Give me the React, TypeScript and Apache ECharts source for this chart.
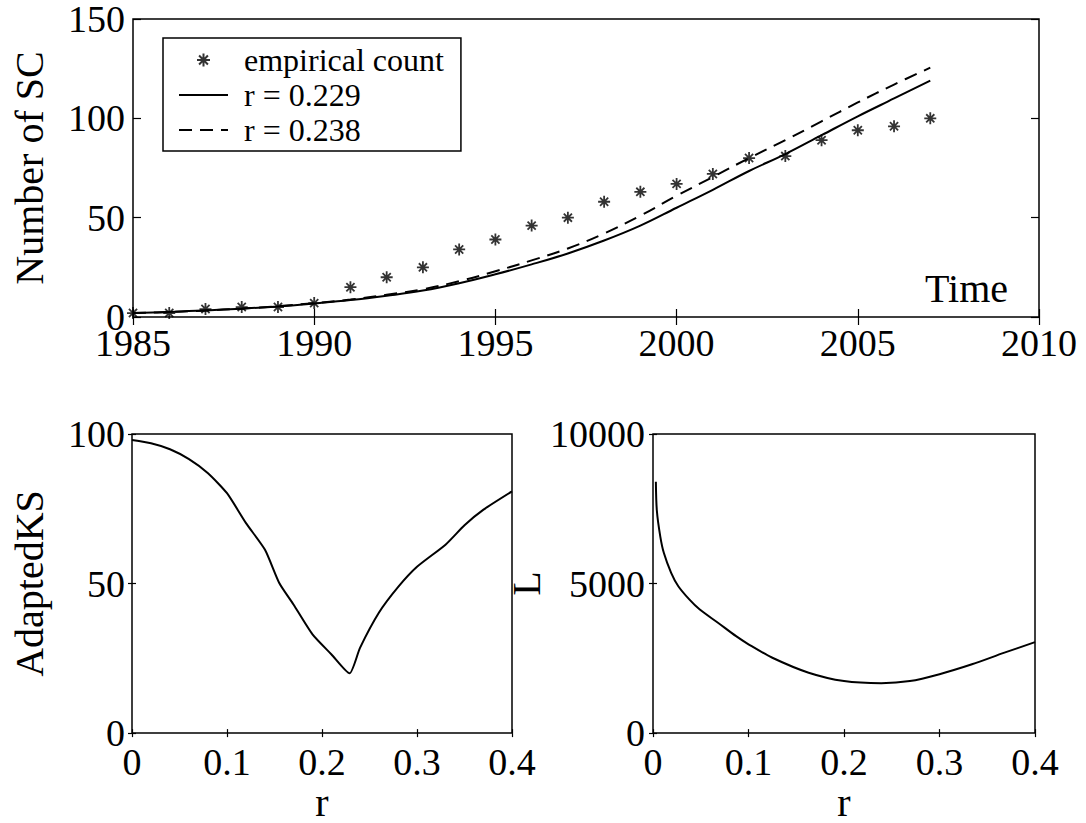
import React, { useEffect, useRef } from 'react';
import * as echarts from 'echarts';

const FONT = 'Liberation Serif';

// ---- Top panel: number of SC over time ----
const years = [1985, 1986, 1987, 1988, 1989, 1990, 1991, 1992, 1993, 1994, 1995, 1996, 1997, 1998, 1999, 2000, 2001, 2002, 2003, 2004, 2005, 2006, 2007];
const empiricalCount = [2, 2, 4, 5, 5, 7, 15, 20, 25, 34, 39, 46, 50, 58, 63, 67, 72, 80, 81, 89, 94, 96, 100];
const fitR229 = [2, 2.5, 3.3, 4.2, 5.3, 6.8, 8.5, 10.7, 13.3, 17, 21.5, 26.5, 32, 38.5, 46, 55, 64, 73.5, 82, 91.5, 101, 110, 119];
const fitR238 = [2, 2.5, 3.3, 4.2, 5.4, 7, 8.8, 11.2, 14, 18, 23, 28.5, 34.5, 42, 51, 61, 70.5, 80, 89, 98.5, 108, 117, 125.5];
const legendNames = ['empirical count', 'r = 0.229', 'r = 0.238'];

// ---- Bottom-left panel: AdaptedKS vs r ----
const rKS = [0, 0.02, 0.04, 0.06, 0.08, 0.1, 0.12, 0.14, 0.155, 0.17, 0.19, 0.21, 0.229, 0.24, 0.26, 0.28, 0.3, 0.33, 0.35, 0.37, 0.4];
const adaptedKS = [98, 96.9, 94.9, 91.6, 86.9, 80.2, 70.2, 61.3, 50.2, 43, 33, 26.3, 20, 28.5, 40.3, 48.8, 55.6, 63, 69.5, 74.7, 80.8];

// ---- Bottom-right panel: L vs r ----
const rL = [0.003, 0.004, 0.0076, 0.0114, 0.019, 0.0265, 0.038, 0.049, 0.068, 0.087, 0.1, 0.125, 0.163, 0.2, 0.239, 0.269, 0.3, 0.334, 0.368, 0.4];
const valuesL = [8400, 7450, 6580, 6020, 5360, 4910, 4470, 4130, 3690, 3240, 2970, 2520, 2020, 1740, 1670, 1740, 1970, 2300, 2690, 3040];

// axis ranges
const topX = { min: 1985, max: 2010, interval: 5 };
const topY = { min: 0, max: 150, interval: 50 };
const rAxis = { min: 0, max: 0.4, interval: 0.1 };
const ksAxis = { min: 0, max: 100, interval: 50 };
const lAxis = { min: 0, max: 10000, interval: 5000 };

const ASTERISK = 'path://M5 0 L5 10 M0 5 L10 5 M1.6 1.6 L8.4 8.4 M8.4 1.6 L1.6 8.4';

const labelStyle = { fontFamily: FONT, fontSize: 38, color: '#000' };
const nameStyle = { fontFamily: FONT, fontSize: 40, color: '#000' };

function xAx(gridIndex: number, range: any, tickLen: number, margin: number, fmt: (v: number) => string, extra: any = {}) {
  return [
    {
      type: 'value', gridIndex, position: 'bottom', ...range,
      axisLine: { show: false },
      axisTick: { show: true, inside: true, length: tickLen, lineStyle: { color: '#000', width: 1.2 } },
      axisLabel: { ...labelStyle, margin, formatter: fmt },
      splitLine: { show: false },
      ...extra,
    },
    {
      type: 'value', gridIndex, position: 'top', ...range,
      axisLine: { show: false },
      axisTick: { show: true, inside: true, length: tickLen, lineStyle: { color: '#000', width: 1.2 } },
      axisLabel: { show: false },
      splitLine: { show: false },
    },
  ];
}

function yAx(gridIndex: number, range: any, tickLen: number, margin: number, name: string, nameGap: number) {
  return [
    {
      type: 'value', gridIndex, position: 'left', ...range,
      name, nameLocation: 'middle', nameGap, nameTextStyle: nameStyle,
      axisLine: { show: false },
      axisTick: { show: true, inside: true, length: tickLen, lineStyle: { color: '#000', width: 1.2 } },
      axisLabel: { ...labelStyle, margin, formatter: (v: number) => String(v) },
      splitLine: { show: false },
    },
    {
      type: 'value', gridIndex, position: 'right', ...range,
      axisLine: { show: false },
      axisTick: { show: true, inside: true, length: tickLen, lineStyle: { color: '#000', width: 1.2 } },
      axisLabel: { show: false },
      splitLine: { show: false },
    },
  ];
}

const gridBox = { show: true, borderColor: '#000', borderWidth: 1.5, backgroundColor: 'transparent', containLabel: false };
const hiddenSymbol = { color: 'rgba(0,0,0,0)', borderWidth: 0, opacity: 0 };

export default function App() {
  const ref = useRef<HTMLDivElement>(null);
  useEffect(() => {
    const chart = echarts.init(ref.current!, null, { renderer: 'svg' });
    const rFmt = (v: number) => String(Math.round(v * 10) / 10);
    const option: any = {
      animation: false,
      backgroundColor: '#fff',
      color: ['#000'],
      textStyle: { fontFamily: FONT },
      grid: [
        { ...gridBox, left: 133, top: 17, width: 906, height: 300 },
        { ...gridBox, left: 132, top: 434, width: 380, height: 301 },
        { ...gridBox, left: 653, top: 434, width: 382, height: 301 },
      ],
      xAxis: [
        ...xAx(0, topX, 8, 7, (v: number) => String(v)),
        ...xAx(1, rAxis, 4, 10, rFmt, { name: 'r', nameLocation: 'middle', nameGap: 46, nameTextStyle: nameStyle }),
        ...xAx(2, rAxis, 4, 10, rFmt, { name: 'r', nameLocation: 'middle', nameGap: 46, nameTextStyle: nameStyle }),
      ],
      yAxis: [
        ...yAx(0, topY, 8, 8, 'Number of SC', 84),
        ...yAx(1, ksAxis, 4, 7, 'AdaptedKS', 83),
        ...yAx(2, lAxis, 4, 8, 'L', 97),
      ],
      legend: {
        left: 163, top: 38, orient: 'vertical',
        data: [
          { name: legendNames[0] },
          { name: legendNames[1], itemStyle: hiddenSymbol },
          { name: legendNames[2], itemStyle: hiddenSymbol },
        ],
        itemWidth: 49, itemHeight: 13, itemGap: 3,
        padding: [6, 17, 5, 15],
        borderColor: '#000', borderWidth: 1.5, borderRadius: 0,
        backgroundColor: '#fff',
        selectedMode: false,
        textStyle: { fontFamily: FONT, fontSize: 32, color: '#000', padding: [0, 0, 0, 11] },
      },
      graphic: [
        {
          type: 'text', x: 1008, y: 288.5, z: 10,
          style: { text: 'Time', font: `40px ${FONT}`, fill: '#000', align: 'right', verticalAlign: 'middle' },
        },
      ],
      series: [
        {
          name: legendNames[1], type: 'line', xAxisIndex: 0, yAxisIndex: 0,
          data: years.map((y, i) => [y, fitR229[i]]),
          symbol: 'none', smooth: 0.4,
          itemStyle: { color: '#000' },
          lineStyle: { color: '#000', width: 2 },
          emphasis: { disabled: true }, z: 2,
        },
        {
          name: legendNames[2], type: 'line', xAxisIndex: 0, yAxisIndex: 0,
          data: years.map((y, i) => [y, fitR238[i]]),
          symbol: 'none', smooth: 0.4,
          itemStyle: { color: '#000' },
          lineStyle: { color: '#000', width: 2, type: [13, 8] },
          emphasis: { disabled: true }, z: 2,
        },
        {
          name: legendNames[0], type: 'scatter', xAxisIndex: 0, yAxisIndex: 0,
          data: years.map((y, i) => [y, empiricalCount[i]]),
          symbol: ASTERISK, symbolSize: 12,
          itemStyle: { color: 'transparent', borderColor: '#000', borderWidth: 1.8 },
          emphasis: { disabled: true }, z: 3,
        },
        {
          name: 'AdaptedKS', type: 'line', xAxisIndex: 2, yAxisIndex: 2,
          data: rKS.map((r, i) => [r, adaptedKS[i]]),
          symbol: 'none', smooth: 0.2,
          lineStyle: { color: '#000', width: 2 },
          emphasis: { disabled: true },
        },
        {
          name: 'L', type: 'line', xAxisIndex: 4, yAxisIndex: 4,
          data: rL.map((r, i) => [r, valuesL[i]]),
          symbol: 'none', smooth: 0.3,
          lineStyle: { color: '#000', width: 2 },
          emphasis: { disabled: true },
        },
      ],
    };
    chart.setOption(option);
    return () => chart.dispose();
  }, []);
  return (
    <div
      ref={ref}
      style={{ position: 'fixed', left: 0, top: 0, width: 1086, height: 823, background: '#fff' }}
    />
  );
}
